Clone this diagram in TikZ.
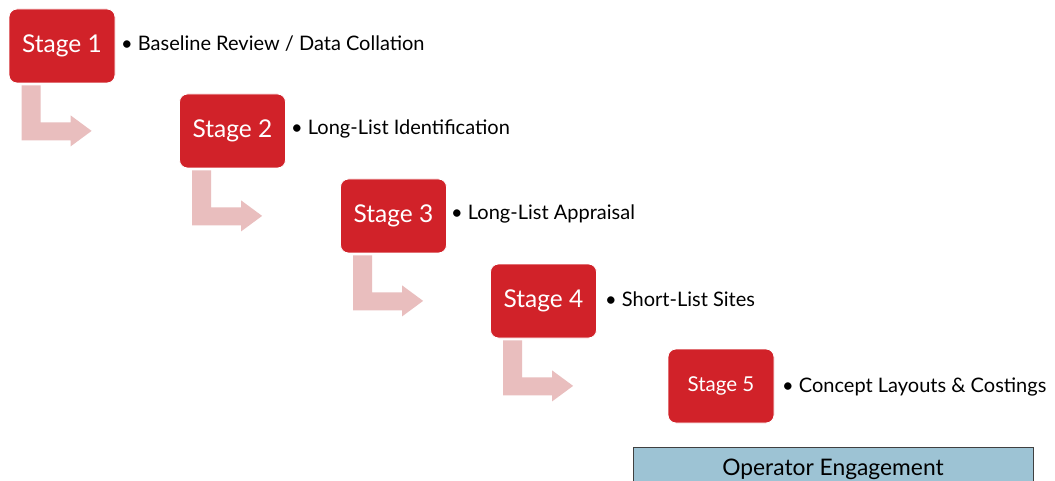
\documentclass[tikz,border=0pt]{standalone}
\usepackage{fontspec}
\setmainfont{Lato}
\usetikzlibrary{calc}
\definecolor{stagered}{RGB}{209,34,41}
\definecolor{arrowpink}{RGB}{233,190,190}
\definecolor{opblue}{RGB}{157,195,212}
\tikzset{
  stagebox/.style={fill=stagered, draw=white, line width=0.8pt, rounded corners=8pt, minimum width=106pt, minimum height=74pt, inner sep=0pt, text=white, font=\fontsize{24.5}{28}\selectfont},
  bullettext/.style={anchor=base west, inner sep=0pt, font=\fontsize{20}{24}\selectfont, text=black},
  bentarrow/.style={fill=arrowpink, draw=none}
}
\newcommand{\bent}[1]{%
  \fill[bentarrow] ($(#1.south west)+(13,2)$) -- ($(#1.south west)+(32,2)$) -- ($(#1.south west)+(32,39)$) -- ($(#1.south west)+(62,39)$) -- ($(#1.south west)+(62,32)$) -- ($(#1.south west)+(83,47.5)$) -- ($(#1.south west)+(62,63)$) -- ($(#1.south west)+(62,57)$) -- ($(#1.south west)+(13,57)$) -- cycle;}
\begin{document}
\begin{tikzpicture}[x=1pt,y=-1pt]
\clip (0,0) rectangle (1055,481);
\fill[white] (0,0) rectangle (1055,481);
\node[stagebox] (s1) at (62,46) {Stage 1};
\node[stagebox] (s2) at (232.5,131) {Stage 2};
\node[stagebox] (s3) at (393.5,216) {Stage 3};
\node[stagebox] (s4) at (543.5,301) {Stage 4};
\node[stagebox, font=\fontsize{20.5}{24}\selectfont] (s5) at (721,386) {Stage 5};
\node[bullettext] (t1) at (121,51) {• Baseline Review / Data Collation};
\node[bullettext] (t2) at (291,135) {• Long-List Identification};
\node[bullettext] (t3) at (451,220) {• Long-List Appraisal};
\node[bullettext] (t4) at (605,306) {• Short-List Sites};
\node[bullettext] (t5) at (782,392) {• Concept Layouts \& Costings};
\bent{s1}
\bent{s2}
\bent{s3}
\bent{s4}
\node[fill=opblue, draw=black!75, line width=1pt, minimum width=400pt, minimum height=50pt, anchor=north west, inner sep=0pt] (op) at (633,447) {};
\node[anchor=base, inner sep=0pt, font=\fontsize{22.8}{26}\selectfont] (opt) at (833,475) {Operator Engagement};
\end{tikzpicture}
\end{document}
